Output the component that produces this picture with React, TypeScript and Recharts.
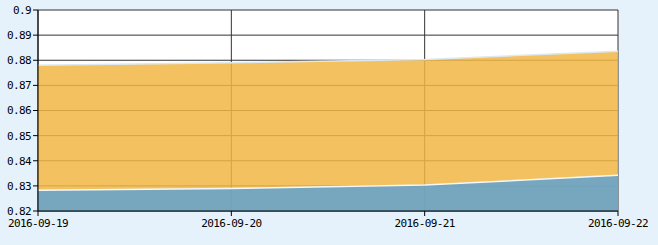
import React from "react";
import { AreaChart, Area, XAxis, YAxis, CartesianGrid } from "recharts";

// categories and series values
const dates = ["2016-09-19", "2016-09-20", "2016-09-21", "2016-09-22"];
const lowerValues = [0.8283, 0.829, 0.8303, 0.8342]; // blue band
const upperValues = [0.878, 0.879, 0.8803, 0.8836]; // orange band
const yTicks = [0.82, 0.83, 0.84, 0.85, 0.86, 0.87, 0.88, 0.89, 0.9];

const BG = "#e6f2fb";
const ORANGE = "#f1b644";
const BLUE = "#64a3cc";
const GRID = "#333333";
const FONT = "'DejaVu Sans Mono', 'Liberation Mono', monospace";

const data = dates.map((d, i) => ({
  date: d,
  lower: lowerValues[i],
  upper: upperValues[i],
}));

const tickStyle = { fill: "#000", fontSize: 11, fontFamily: FONT, letterSpacing: -0.6 };

export default function App() {
  return (
    <div
      style={{
        position: "fixed",
        left: 0,
        top: 0,
        width: 658,
        height: 245,
        background: BG,
      }}
    >
      <AreaChart
        width={658}
        height={245}
        data={data}
        margin={{ top: 10, right: 40, left: 0, bottom: 0 }}
      >
        <CartesianGrid stroke={GRID} strokeWidth={1} fill="#ffffff" />
        <XAxis
          dataKey="date"
          height={34}
          interval={0}
          axisLine={{ stroke: "#000" }}
          tickLine={{ stroke: "#000" }}
          tickSize={5}
          tickMargin={3}
          tick={tickStyle}
        />
        <YAxis
          width={38}
          domain={[0.82, 0.9]}
          ticks={yTicks}
          allowDataOverflow
          axisLine={{ stroke: "#000" }}
          tickLine={{ stroke: "#000" }}
          tickSize={5}
          tickFormatter={(v: number) => String(Math.round(v * 100) / 100)}
          tick={tickStyle}
        />
        <Area
          type="linear"
          dataKey="upper"
          fill={ORANGE}
          fillOpacity={0.85}
          stroke="#dde9f0"
          strokeWidth={1.5}
          isAnimationActive={false}
        />
        <Area
          type="linear"
          dataKey="lower"
          fill={BLUE}
          fillOpacity={0.88}
          stroke="#f4f8fa"
          strokeWidth={1.5}
          isAnimationActive={false}
        />
      </AreaChart>
    </div>
  );
}
